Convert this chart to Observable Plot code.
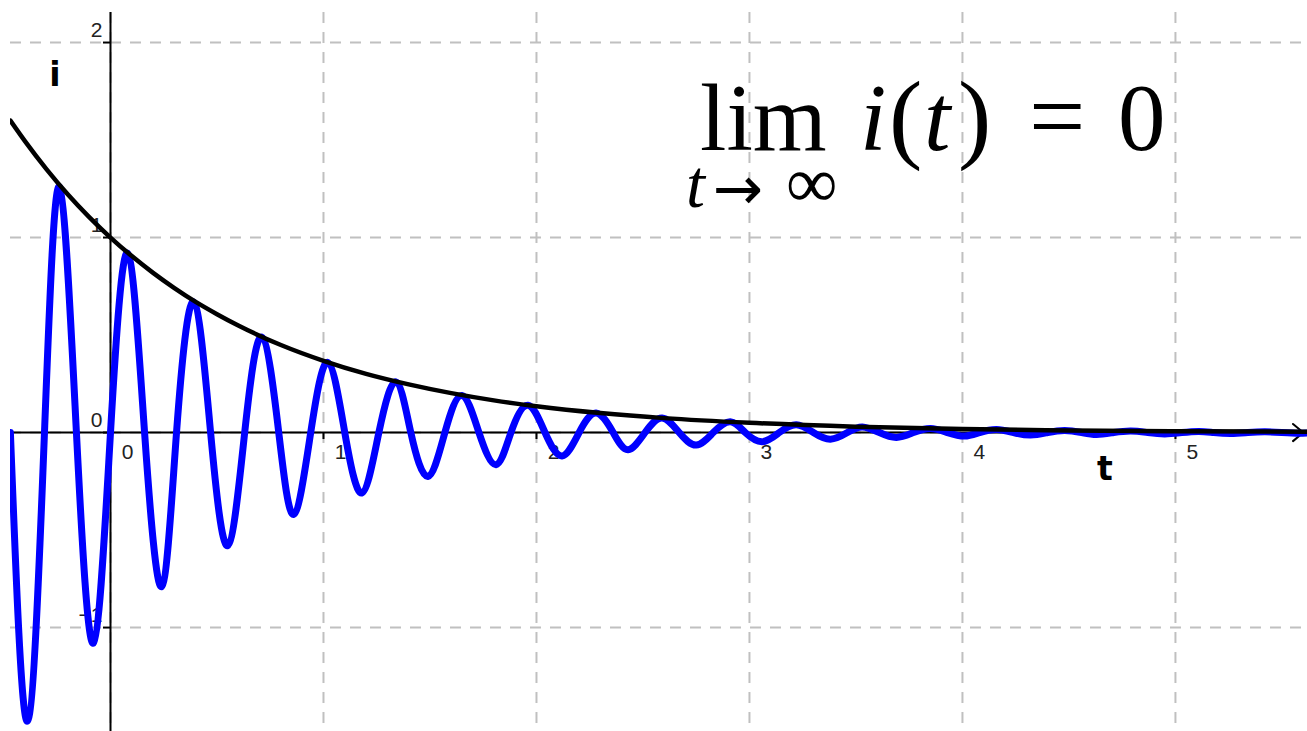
<!DOCTYPE html>
<html>
<head>
<meta charset="utf-8">
<script src="https://cdn.jsdelivr.net/npm/d3@7"></script>
<script src="https://cdn.jsdelivr.net/npm/@observablehq/plot@0.6"></script>
<style>
  html, body { margin: 0; padding: 0; background: #fff; }
  #wrap { position: relative; width: 1307px; height: 731px; }
  #wrap svg.overlay { position: absolute; left: 0; top: 0; pointer-events: none; }
</style>
</head>
<body>
<div id="wrap"></div>
<script>
// ---- data ----
const tickT = [0, 1, 2, 3, 4, 5];
const tickI = [-1, 0, 1, 2];
const tickILabels = ["−1", "0", "1", "2"];

// blue curve: extrema (t, i) and zero crossings (t)
const extT = [-0.39, -0.24, -0.08, 0.08, 0.24, 0.39, 0.55, 0.71, 0.86, 1.02, 1.18, 1.34, 1.49, 1.65, 1.81, 1.96, 2.12, 2.28, 2.43, 2.59, 2.75, 2.91, 3.06, 3.22, 3.38, 3.53, 3.69, 3.85, 4.01, 4.16, 4.32, 4.48, 4.63, 4.79, 4.95, 5.11, 5.26, 5.42, 5.58];
const extI = [-1.48, 1.26, -1.08, 0.92, -0.79, 0.67, -0.58, 0.49, -0.42, 0.36, -0.31, 0.26, -0.225, 0.19, -0.165, 0.14, -0.12, 0.10, -0.088, 0.075, -0.064, 0.055, -0.047, 0.040, -0.034, 0.029, -0.025, 0.021, -0.018, 0.016, -0.013, 0.011, -0.010, 0.008, -0.007, 0.006, -0.005, 0.004, -0.004];
const zeroT = [-0.47, -0.31, -0.16, 0, 0.16, 0.31, 0.47, 0.63, 0.79, 0.94, 1.10, 1.26, 1.41, 1.57, 1.73, 1.88, 2.04, 2.20, 2.36, 2.51, 2.67, 2.83, 2.98, 3.14, 3.30, 3.46, 3.61, 3.77, 3.93, 4.08, 4.24, 4.40, 4.56, 4.71, 4.87, 5.03, 5.18, 5.34, 5.50, 5.65];

// black envelope
const envT = [-0.47, -0.4, -0.3, -0.2, -0.1, 0, 0.1, 0.2, 0.3, 0.4, 0.5, 0.6, 0.8, 1.0, 1.2, 1.4, 1.6, 1.8, 2.0, 2.3, 2.6, 3.0, 3.5, 4.0, 4.5, 5.0, 5.62];
const envI = [1.600, 1.492, 1.350, 1.221, 1.105, 1.0, 0.905, 0.819, 0.741, 0.670, 0.607, 0.549, 0.449, 0.368, 0.301, 0.247, 0.202, 0.165, 0.135, 0.100, 0.074, 0.050, 0.030, 0.018, 0.011, 0.007, 0.004];

const xDomain = [-0.4695, 5.62];
const yDomain = [-1.533, 2.154];

// ---- build tables ----
const blue = extT.map((t, k) => ({t, i: extI[k]}))
  .concat(zeroT.map(t => ({t, i: 0})))
  .sort((a, b) => a.t - b.t);
const env = envT.map((t, k) => ({t, i: envI[k]}));
const yTicks = tickI.map((v, k) => ({v, label: tickILabels[k]}));

const grid = {stroke: "#c0c0c0", strokeWidth: 2, strokeDasharray: "11,9"};
const tickFont = {fontFamily: "Liberation Sans, Arial, sans-serif", fontSize: 21, fill: "#222"};

const chart = Plot.plot({
  width: 1307,
  height: 731,
  marginLeft: 10,
  marginTop: 12,
  marginRight: 0,
  marginBottom: 0,
  style: {background: "#fff"},
  x: {domain: xDomain, axis: null},
  y: {domain: yDomain, axis: null},
  marks: [
    Plot.ruleX(tickT, {x: d => d, ...grid}),
    Plot.ruleY(tickI, {y: d => d, ...grid}),
    // axes
    Plot.ruleX([0], {x: d => d, stroke: "black", strokeWidth: 2}),
    Plot.arrow([0], {x1: xDomain[0] + 0.005, x2: xDomain[1] - 0.02, y1: 0, y2: 0, stroke: "black", strokeWidth: 2, headLength: 10, headAngle: 80}),
    // small ticks
    Plot.ruleX(tickT, {x: d => d, y1: 0, y2: 0, insetTop: 0, insetBottom: -7, stroke: "black", strokeWidth: 2}),
    Plot.ruleY(tickI, {y: d => d, x1: 0, x2: 0, insetLeft: -7, insetRight: 0, stroke: "black", strokeWidth: 2}),
    // tick labels
    Plot.text(tickT, {x: d => d, y: 0, text: d => String(d), dx: 17, dy: 20, ...tickFont}),
    Plot.text(yTicks, {x: 0, y: "v", text: "label", textAnchor: "end", dx: -8, dy: -12, ...tickFont}),
    // curves
    Plot.line(blue, {x: "t", y: "i", stroke: "#0000ff", strokeWidth: 7, curve: "natural", clip: true}),
    Plot.line(env, {x: "t", y: "i", stroke: "black", strokeWidth: 4.5, curve: "monotone-x", clip: true})
  ]
});

const wrap = document.getElementById("wrap");
wrap.appendChild(chart);

// overlay: axis titles and the limit formula
const ov = d3.select(wrap).append("svg")
  .attr("class", "overlay")
  .attr("width", 1307).attr("height", 731);

const sans = "DejaVu Sans, sans-serif";
const serif = "Liberation Serif, Times New Roman, serif";

ov.append("text").attr("x", 55).attr("y", 86).attr("text-anchor", "middle")
  .attr("font-family", sans).attr("font-weight", "bold").attr("font-size", 33).text("i");
ov.append("text").attr("x", 1105).attr("y", 480).attr("text-anchor", "middle")
  .attr("font-family", sans).attr("font-weight", "bold").attr("font-size", 33).text("t");

const f = ov.append("g").attr("font-family", serif).attr("fill", "#000");
f.append("text").attr("x", 700).attr("y", 150).attr("font-size", 95).text("lim");
f.append("text").attr("x", 686).attr("y", 207).attr("font-size", 68).attr("font-style", "italic").text("t");
f.append("text").attr("x", 713).attr("y", 209).attr("font-size", 60).attr("font-family", sans).text("→");
f.append("text").attr("x", 786).attr("y", 207).attr("font-size", 72).text("∞");
f.append("text").attr("x", 860).attr("y", 150).attr("font-size", 95).attr("font-style", "italic").text("i");
f.append("text").attr("x", 889).attr("y", 150).attr("font-size", 100).text("(");
f.append("text").attr("x", 924).attr("y", 150).attr("font-size", 95).attr("font-style", "italic").text("t");
f.append("text").attr("x", 958).attr("y", 150).attr("font-size", 100).text(")");
f.append("text").attr("x", 1029).attr("y", 150).attr("font-size", 100).text("=");
f.append("text").attr("x", 1118).attr("y", 150).attr("font-size", 95).text("0");
</script>
</body>
</html>
